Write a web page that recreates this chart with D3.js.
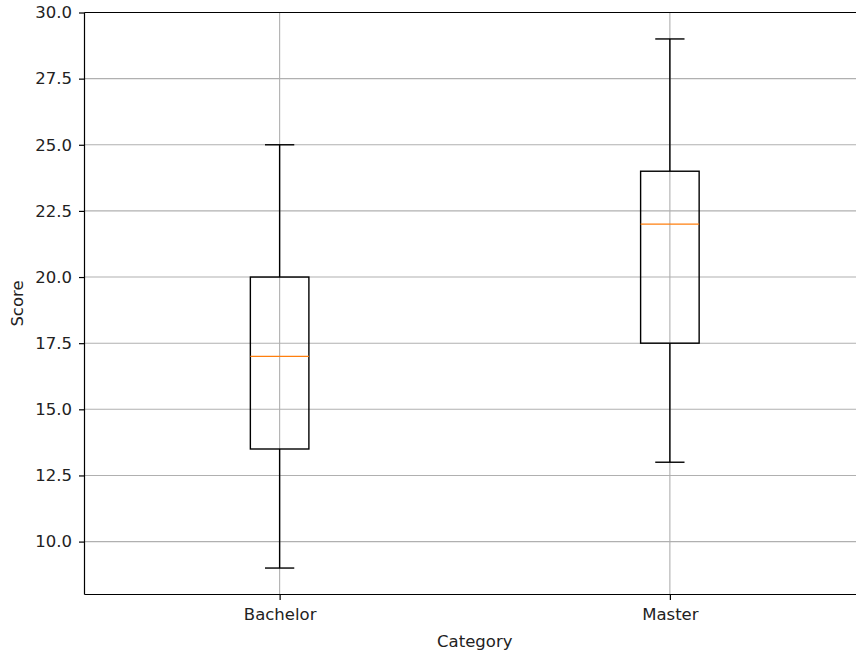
<!DOCTYPE html>
<html><head><meta charset="utf-8">
<script src="https://cdn.jsdelivr.net/npm/d3@7"></script>
<style>body{margin:0;background:#fff}svg{display:block}</style>
</head><body>
<script>
const categories = ["Bachelor", "Master"];
const whiskerLow = [9, 13];
const q1 = [13.5, 17.5];
const medians = [17, 22];
const q3 = [20, 24];
const whiskerHigh = [25, 29];
const yTicks = [10.0, 12.5, 15.0, 17.5, 20.0, 22.5, 25.0, 27.5, 30.0];

const W = 856, H = 654;
const FS = 16.5;
const m = {left: 84.5, top: 12.5, bottom: 594.5};
const svg = d3.select("body").append("svg").attr("width", W).attr("height", H)
  .style("font-family", "'DejaVu Sans', sans-serif");

const x = d3.scaleLinear().domain([0.5, 2.5]).range([m.left, 865]);
const y = d3.scaleLinear().domain([8, 30]).range([m.bottom, m.top]);

const g = svg.append("g");
// grid
g.selectAll(".hg").data(yTicks).join("line")
  .attr("x1", m.left).attr("x2", W).attr("y1", d => y(d)).attr("y2", d => y(d))
  .attr("stroke", "#b0b0b0").attr("stroke-width", 1.1);
g.selectAll(".vg").data(categories).join("line")
  .attr("x1", (d, i) => x(i + 1)).attr("x2", (d, i) => x(i + 1))
  .attr("y1", m.top).attr("y2", m.bottom)
  .attr("stroke", "#b0b0b0").attr("stroke-width", 1.1);

const bw = 0.15, cw = 0.0375;
const boxes = g.selectAll(".box").data(categories).join("g");
boxes.append("line").attr("x1", (d, i) => x(i + 1)).attr("x2", (d, i) => x(i + 1))
  .attr("y1", (d, i) => y(whiskerLow[i])).attr("y2", (d, i) => y(q1[i])).attr("stroke", "#000").attr("stroke-width", 1.4);
boxes.append("line").attr("x1", (d, i) => x(i + 1)).attr("x2", (d, i) => x(i + 1))
  .attr("y1", (d, i) => y(q3[i])).attr("y2", (d, i) => y(whiskerHigh[i])).attr("stroke", "#000").attr("stroke-width", 1.4);
boxes.append("line").attr("x1", (d, i) => x(i + 1 - cw)).attr("x2", (d, i) => x(i + 1 + cw))
  .attr("y1", (d, i) => y(whiskerLow[i])).attr("y2", (d, i) => y(whiskerLow[i])).attr("stroke", "#000").attr("stroke-width", 1.4);
boxes.append("line").attr("x1", (d, i) => x(i + 1 - cw)).attr("x2", (d, i) => x(i + 1 + cw))
  .attr("y1", (d, i) => y(whiskerHigh[i])).attr("y2", (d, i) => y(whiskerHigh[i])).attr("stroke", "#000").attr("stroke-width", 1.4);
boxes.append("rect").attr("x", (d, i) => x(i + 1 - bw / 2)).attr("width", x(1 + bw / 2) - x(1 - bw / 2))
  .attr("y", (d, i) => y(q3[i])).attr("height", (d, i) => y(q1[i]) - y(q3[i]))
  .attr("fill", "none").attr("stroke", "#000").attr("stroke-width", 1.4);
boxes.append("line").attr("x1", (d, i) => x(i + 1 - bw / 2)).attr("x2", (d, i) => x(i + 1 + bw / 2))
  .attr("y1", (d, i) => y(medians[i])).attr("y2", (d, i) => y(medians[i])).attr("stroke", "#ff7f0e").attr("stroke-width", 1.4);

// spines
g.append("line").attr("x1", m.left).attr("x2", m.left).attr("y1", m.top).attr("y2", m.bottom).attr("stroke", "#000").attr("stroke-width", 1.2);
g.append("line").attr("x1", m.left).attr("x2", W).attr("y1", m.bottom).attr("y2", m.bottom).attr("stroke", "#000").attr("stroke-width", 1.2);
g.append("line").attr("x1", m.left).attr("x2", W).attr("y1", m.top).attr("y2", m.top).attr("stroke", "#000").attr("stroke-width", 1.2);

// axes
const yAxis = d3.axisLeft(y).tickValues(yTicks).tickFormat(d3.format(".1f")).tickSize(5.5).tickPadding(7);
const ya = svg.append("g").attr("transform", `translate(${m.left},0)`).call(yAxis);
ya.select(".domain").remove();
ya.selectAll("text").attr("font-size", FS).attr("fill", "#222").attr("font-family", "'DejaVu Sans', sans-serif");
ya.selectAll("line").attr("stroke", "#000").attr("stroke-width", 1.2);

const xAxis = d3.axisBottom(x).tickValues([1, 2]).tickFormat((d) => categories[d - 1]).tickSize(5.5).tickPadding(8.5);
const xa = svg.append("g").attr("transform", `translate(0,${m.bottom})`).call(xAxis);
xa.select(".domain").remove();
xa.selectAll("text").attr("font-size", FS).attr("fill", "#222").attr("font-family", "'DejaVu Sans', sans-serif");
xa.selectAll("line").attr("stroke", "#000").attr("stroke-width", 1.2);

svg.append("text").attr("x", x(1.5)).attr("y", 646.5).attr("text-anchor", "middle")
  .attr("font-size", FS).attr("fill", "#222").text("Category");
svg.append("text").attr("transform", `translate(23,${(m.top + m.bottom) / 2}) rotate(-90)`)
  .attr("text-anchor", "middle").attr("font-size", FS).attr("fill", "#222").text("Score");
</script>
</body></html>
